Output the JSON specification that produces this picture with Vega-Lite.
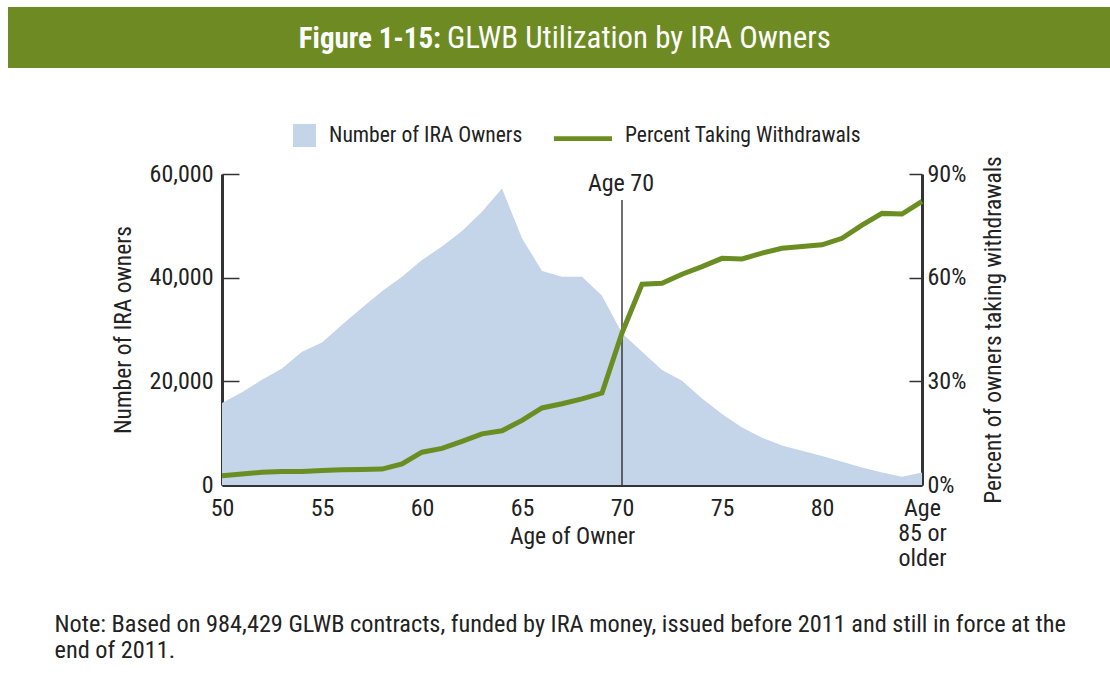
{
  "$schema": "https://vega.github.io/schema/vega-lite/v6.json",
  "padding": {"left": 8, "top": 7, "right": 0, "bottom": 0},
  "background": "white",
  "center": false,
  "spacing": 42,
  "resolve": {"scale": {"color": "independent"}, "legend": {"color": "independent"}},
  "config": {
    "font": "Roboto Condensed, DejaVu Sans Condensed, sans-serif",
    "view": {"stroke": null},
    "axis": {
      "grid": false,
      "domainColor": "#333333",
      "domainWidth": 3,
      "tickColor": "#333333",
      "tickWidth": 1.5,
      "labelFontSize": 24,
      "labelColor": "#222222",
      "labelFlush": false,
      "labelOverlap": false,
      "titleFontSize": 23.5,
      "titleFontWeight": "normal",
      "titleColor": "#222222",
      "zindex": 1
    },
    "legend": {
      "orient": "none",
      "legendX": 57,
      "legendY": -64,
      "padding": 14,
      "direction": "horizontal",
      "labelFontSize": 21.6,
      "labelColor": "#222222",
      "labelLimit": 0,
      "symbolSize": 529,
      "labelOffset": 13,
      "columnPadding": 30
    }
  },
  "datasets": {
    "ira": [
      {"age": 50, "owners": 15800, "pct": 2.7},
      {"age": 51, "owners": 17900, "pct": 3.2},
      {"age": 52, "owners": 20300, "pct": 3.7},
      {"age": 53, "owners": 22500, "pct": 3.9},
      {"age": 54, "owners": 25700, "pct": 3.9},
      {"age": 55, "owners": 27500, "pct": 4.2},
      {"age": 56, "owners": 30900, "pct": 4.4},
      {"age": 57, "owners": 34200, "pct": 4.5},
      {"age": 58, "owners": 37400, "pct": 4.6},
      {"age": 59, "owners": 40200, "pct": 6.1},
      {"age": 60, "owners": 43400, "pct": 9.5},
      {"age": 61, "owners": 46000, "pct": 10.6},
      {"age": 62, "owners": 49000, "pct": 12.6},
      {"age": 63, "owners": 52700, "pct": 14.8},
      {"age": 64, "owners": 57200, "pct": 15.7},
      {"age": 65, "owners": 47600, "pct": 18.7},
      {"age": 66, "owners": 41300, "pct": 22.3},
      {"age": 67, "owners": 40200, "pct": 23.5},
      {"age": 68, "owners": 40200, "pct": 24.9},
      {"age": 69, "owners": 36500, "pct": 26.6},
      {"age": 70, "owners": 29300, "pct": 44.0},
      {"age": 71, "owners": 25700, "pct": 58.1},
      {"age": 72, "owners": 22200, "pct": 58.4},
      {"age": 73, "owners": 20100, "pct": 61.0},
      {"age": 74, "owners": 16700, "pct": 63.2},
      {"age": 75, "owners": 13700, "pct": 65.6},
      {"age": 76, "owners": 11100, "pct": 65.4},
      {"age": 77, "owners": 9100, "pct": 67.1},
      {"age": 78, "owners": 7600, "pct": 68.5},
      {"age": 79, "owners": 6600, "pct": 69.0},
      {"age": 80, "owners": 5600, "pct": 69.5},
      {"age": 81, "owners": 4500, "pct": 71.4},
      {"age": 82, "owners": 3400, "pct": 75.2},
      {"age": 83, "owners": 2400, "pct": 78.6},
      {"age": 84, "owners": 1600, "pct": 78.4},
      {"age": 85, "owners": 2400, "pct": 82.1}
    ]
  },
  "vconcat": [
    {
      "width": 1102,
      "height": 61,
      "view": {"fill": "#6d8b22", "stroke": null},
      "data": {"values": [{}]},
      "encoding": {
        "x": {"datum": 0.5, "type": "quantitative", "scale": {"domain": [0, 1]}, "axis": null},
        "y": {"datum": 0.5, "type": "quantitative", "scale": {"domain": [0, 1]}, "axis": null}
      },
      "layer": [
        {
          "mark": {"type": "text", "text": "Figure 1-15:", "fontWeight": "bold", "fontSize": 29, "color": "white", "align": "right", "baseline": "middle", "dx": -118, "dy": 1.5}
        },
        {
          "mark": {"type": "text", "text": "GLWB Utilization by IRA Owners", "fontWeight": "normal", "fontSize": 30.9, "color": "white", "align": "left", "baseline": "middle", "dx": -112, "dy": 1.5}
        }
      ]
    },
    {
      "spacing": 0,
      "resolve": {"scale": {"color": "independent"}, "legend": {"color": "independent"}},
      "hconcat": [
        {
          "width": 103,
          "height": 1,
          "data": {"values": []},
          "mark": {"type": "point"}
        },
        {
          "width": 700,
          "height": 311,
          "data": {"name": "ira"},
          "encoding": {
            "x": {
              "field": "age", "type": "quantitative",
              "scale": {"domain": [50, 85], "nice": false, "zero": false},
              "axis": {
                "values": [50,51,52,53,54,55,56,57,58,59,60,61,62,63,64,65,66,67,68,69,70,71,72,73,74,75,76,77,78,79,80,81,82,83,84,85],
                "labelExpr": "datum.value == 85 ? ['Age', '85 or', 'older'] : (datum.value % 5 == 0 ? datum.label : '')",
                "labelOverlap": false,
                "labelBound": false,
                "tickSize": -7,
                "labelPadding": 18,
                "labelLineHeight": 25,
                "title": "Age of Owner",
                "titleY": 58,
                "titleBaseline": "alphabetic"
              }
            }
          },
          "layer": [
            {
              "layer": [
                {
                  "mark": {"type": "area", "opacity": 1},
                  "encoding": {
                    "y": {
                      "field": "owners", "type": "quantitative",
                      "scale": {"domain": [0, 60000], "nice": false},
                      "axis": {
                        "orient": "left",
                        "values": [0, 20000, 40000, 60000],
                        "format": ",.0f",
                        "tickSize": -17,
                        "labelPadding": 26,
                        "title": "Number of IRA owners",
                        "titlePadding": 14
                      }
                    },
                    "color": {
                      "datum": "Number of IRA Owners",
                      "type": "nominal",
                      "scale": {"domain": ["Number of IRA Owners", "Percent Taking Withdrawals"], "range": ["#c4d4e9", "#6b8e23"]},
                      "legend": {
                        "title": null,
                        "symbolType": {"expr": "datum.value == 'Number of IRA Owners' ? 'M-1,-1H1V1H-1Z' : 'M-4.05,0.03H1V0.43H-4.05Z'"},
                        "encode": {
                          "symbols": {
                            "update": {
                              "shape": {"signal": "datum.value == 'Number of IRA Owners' ? 'M-1,-1H1V1H-1Z' : 'M-4.05,0.03H1V0.43H-4.05Z'"},
                              "fill": {"scale": "color", "field": "value"},
                              "strokeWidth": {"value": 0},
                              "opacity": {"value": 1}
                            }
                          }
                        }
                      }
                    }
                  }
                },
                {
                  "transform": [{"filter": "datum.age == 70"}],
                  "mark": {"type": "rule", "color": "#222222", "strokeWidth": 1.3},
                  "encoding": {
                    "y": {"datum": 55000, "type": "quantitative"},
                    "y2": {"datum": 0}
                  }
                },
                {
                  "transform": [{"filter": "datum.age == 70"}],
                  "mark": {"type": "text", "text": "Age 70", "fontSize": 24, "color": "#222222", "align": "center", "baseline": "alphabetic", "dx": -1},
                  "encoding": {
                    "y": {"datum": 56800, "type": "quantitative"}
                  }
                }
              ]
            },
            {
              "mark": {"type": "line", "strokeWidth": 5, "strokeCap": "butt", "strokeJoin": "miter"},
              "encoding": {
                "y": {
                  "field": "pct", "type": "quantitative",
                  "scale": {"domain": [0, 90], "nice": false},
                  "axis": {
                    "orient": "right",
                    "values": [0, 30, 60, 90],
                    "labelExpr": "datum.value + '%'",
                    "tickSize": -13,
                    "labelPadding": 18,
                    "title": "Percent of owners taking withdrawals",
                    "titleAngle": 270,
                    "titleBaseline": "top",
                    "titlePadding": 16
                  }
                },
                "color": {
                  "datum": "Percent Taking Withdrawals",
                  "type": "nominal",
                  "legend": {
                    "title": null,
                    "symbolType": {"expr": "datum.value == 'Number of IRA Owners' ? 'M-1,-1H1V1H-1Z' : 'M-4.05,0.03H1V0.43H-4.05Z'"},
                    "encode": {
                      "symbols": {
                        "update": {
                          "shape": {"signal": "datum.value == 'Number of IRA Owners' ? 'M-1,-1H1V1H-1Z' : 'M-4.05,0.03H1V0.43H-4.05Z'"},
                          "fill": {"scale": "color", "field": "value"},
                          "strokeWidth": {"value": 0},
                          "opacity": {"value": 1}
                        }
                      }
                    }
                  }
                }
              }
            }
          ],
          "resolve": {"scale": {"y": "independent"}}
        }
      ]
    },
    {
      "spacing": 0,
      "hconcat": [
        {
          "width": 46,
          "height": 1,
          "data": {"values": []},
          "mark": {"type": "point"}
        },
        {
          "width": 1,
          "height": 1,
          "data": {"values": [{}]},
          "mark": {
            "type": "text",
            "text": ["Note: Based on 984,429 GLWB contracts, funded by IRA money, issued before 2011 and still in force at the", "end of 2011."],
            "align": "left",
            "baseline": "top",
            "fontSize": 24.3,
            "lineHeight": 26.5,
            "color": "#222222"
          }
        }
      ]
    }
  ]
}
